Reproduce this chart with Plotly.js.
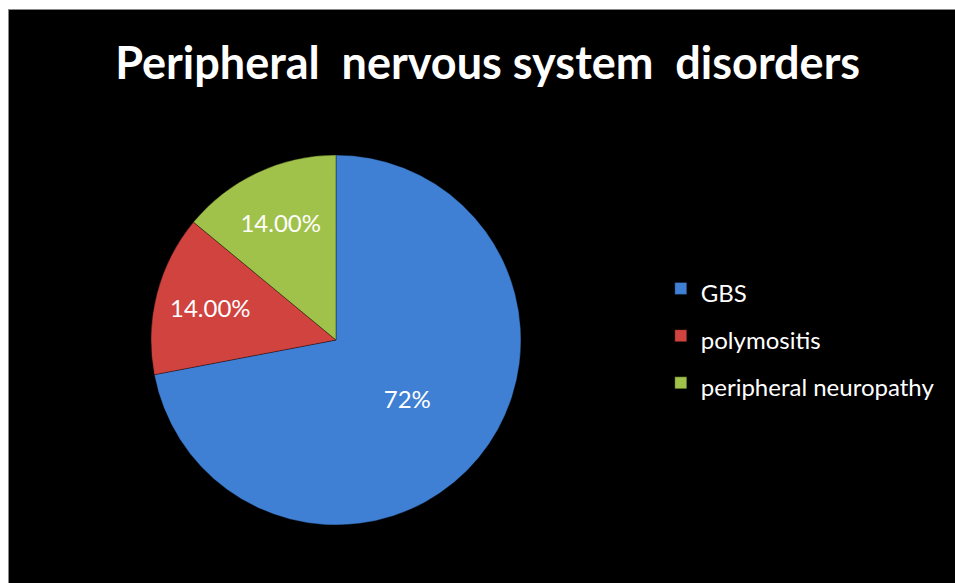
<!DOCTYPE html>
<html>
<head>
<meta charset="utf-8">
<script src="https://cdn.plot.ly/plotly-3.0.1.min.js"></script>
<style>
  html, body { margin: 0; padding: 0; background: #ffffff; width: 955px; height: 583px; overflow: hidden; }
  #frame { position: absolute; left: 8px; top: 9px; width: 947px; height: 574px; background: #888; }
  #chart { position: absolute; left: 9px; top: 10px; width: 946px; height: 573px; }
</style>
</head>
<body>
<div id="frame"></div>
<div id="chart"></div>
<script>
const categories = ['GBS', 'polymositis', 'peripheral neuropathy'];
const values = [72, 14, 14];
const valueLabels = ['72%', '14.00%', '14.00%'];
const sliceColors = ['#3f80d4', '#d0433f', '#a0c24a'];

const legendNames = categories.map(c => '<span style="font-size:24px">' + c + '</span>');

const trace = {
  type: 'pie',
  labels: legendNames,
  values: values,
  text: valueLabels,
  textinfo: 'text',
  textposition: 'inside',
  insidetextorientation: 'horizontal',
  textfont: { family: 'Lato, "Open Sans", sans-serif', size: 24, color: '#ffffff' },
  sort: false,
  direction: 'clockwise',
  rotation: 0,
  marker: { colors: sliceColors, line: { color: 'rgba(0,0,0,0.35)', width: 1 } },
  domain: { x: [0.1501, 0.5412], y: [0.1012, 0.7469] },
  hoverinfo: 'label+percent'
};

const layout = {
  width: 946,
  height: 573,
  paper_bgcolor: '#000000',
  plot_bgcolor: '#000000',
  margin: { l: 0, r: 0, t: 0, b: 0 },
  title: {
    text: 'Peripheral&nbsp; nervous system&nbsp; disorders',
    font: { family: 'Lato, "Open Sans", sans-serif', size: 45, color: '#ffffff', weight: 'bold' },
    x: 0.506, xanchor: 'center',
    y: 0.9075, yanchor: 'middle', yref: 'container'
  },
  showlegend: true,
  legend: {
    x: 0.689, xanchor: 'left',
    y: 0.564, yanchor: 'top',
    font: { family: 'Lato, "Open Sans", sans-serif', size: 34, color: '#ffffff' },
    bgcolor: 'rgba(0,0,0,0)',
    itemwidth: 30
  }
};

Plotly.newPlot('chart', [trace], layout, { displayModeBar: false, staticPlot: true });
</script>
</body>
</html>
